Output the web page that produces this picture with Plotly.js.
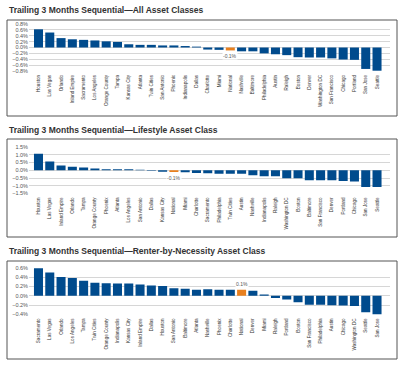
<!DOCTYPE html>
<html>
<head>
<meta charset="utf-8">
<script src="https://cdn.plot.ly/plotly-3.0.1.min.js"></script>
<style>html,body{margin:0;padding:0;background:#fff;}#chart{width:407px;height:366px;}</style>
</head>
<body>
<div id="chart"></div>
<script>
const titles = [
  "Trailing 3 Months Sequential\u2014All Asset Classes",
  "Trailing 3 Months Sequential\u2014Lifestyle Asset Class",
  "Trailing 3 Months Sequential\u2014Renter-by-Necessity Asset Class"
];

const cats1 = ["Houston","Las Vegas","Orlando","Inland Empire","Sacramento","Los Angeles","Orange County","Tampa","Kansas City","Atlanta","Twin Cities","San Antonio","Phoenix","Indianapolis","Dallas","Charlotte","Miami","National","Nashville","Baltimore","Philadelphia","Austin","Raleigh","Boston","Denver","Washington DC","San Francisco","Chicago","Portland","San Jose","Seattle"];
const vals1 = [0.62,0.51,0.32,0.28,0.26,0.24,0.21,0.19,0.11,0.09,0.09,0.07,0.07,0.05,0.03,-0.07,-0.08,-0.10,-0.13,-0.13,-0.20,-0.23,-0.26,-0.33,-0.34,-0.34,-0.37,-0.41,-0.42,-0.73,-0.79];

const cats2 = ["Houston","Las Vegas","Inland Empire","Orlando","Tampa","Orange County","Phoenix","Atlanta","Los Angeles","San Antonio","Dallas","Kansas City","National","Miami","Charlotte","Sacramento","Philadelphia","Twin Cities","Austin","Nashville","Indianapolis","Raleigh","Washington DC","Boston","Baltimore","San Francisco","Denver","Portland","Chicago","San Jose","Seattle"];
const vals2 = [1.06,0.56,0.30,0.22,0.17,0.11,0.07,0.07,0.07,0.04,-0.04,-0.09,-0.12,-0.13,-0.17,-0.19,-0.22,-0.22,-0.22,-0.32,-0.39,-0.39,-0.52,-0.52,-0.65,-0.65,-0.65,-0.69,-0.73,-1.08,-1.08];

const cats3 = ["Sacramento","Las Vegas","Orlando","Los Angeles","Tampa","Twin Cities","Orange County","Indianapolis","Kansas City","Inland Empire","Dallas","Houston","San Antonio","Baltimore","Atlanta","Nashville","Phoenix","Charlotte","National","Denver","Miami","Raleigh","Portland","Boston","San Francisco","Philadelphia","Austin","Chicago","Washington DC","Seattle","San Jose"];
const vals3 = [0.59,0.50,0.40,0.38,0.32,0.28,0.27,0.26,0.26,0.24,0.22,0.21,0.16,0.15,0.13,0.14,0.13,0.13,0.13,0.11,0.03,-0.05,-0.08,-0.14,-0.19,-0.19,-0.20,-0.21,-0.22,-0.35,-0.40];

const highlight = "National";
const BLUE = "#004b8d", ORANGE = "#e8801f";
const FONT = "Liberation Sans, Arial, sans-serif";
const W = 407, H = 366;

const panels = [
  {cats: cats1, vals: vals1, range: [-0.8, 0.8], dtick: 0.2, top: 24, bot: 71, boxTop: 20, boxBot: 116, titleY: 10},
  {cats: cats2, vals: vals2, range: [-1.5, 1.5], dtick: 0.5, top: 147, bot: 193.5, boxTop: 139, boxBot: 237, titleY: 130},
  {cats: cats3, vals: vals3, range: [-0.4, 0.6], dtick: 0.2, top: 267.7, bot: 314.5, boxTop: 261, boxBot: 359, titleY: 251}
];

const data = [];
const layout = {
  width: W, height: H,
  margin: {l: 0, r: 0, t: 0, b: 0},
  paper_bgcolor: "#fff", plot_bgcolor: "#fff",
  showlegend: false,
  bargap: 0.2,
  font: {family: FONT, color: "#333"},
  shapes: [], annotations: []
};

panels.forEach((p, i) => {
  const n = i === 0 ? "" : String(i + 1);
  data.push({
    type: "bar",
    x: p.cats, y: p.vals,
    xaxis: "x" + n, yaxis: "y" + n,
    marker: {color: p.cats.map(c => c === highlight ? ORANGE : BLUE)},
    hoverinfo: "x+y"
  });
  layout["xaxis" + n] = {
    domain: [29 / W, 390 / W],
    anchor: "y" + n,
    type: "category",
    range: [-0.84, p.cats.length + 0.15],
    tickangle: -90,
    ticklabelstandoff: 2,
    tickfont: {size: 4.6, color: "#333", family: FONT},
    showgrid: false, zeroline: false, showline: false, ticks: "",
    automargin: false
  };
  layout["yaxis" + n] = {
    domain: [1 - p.bot / H, 1 - p.top / H],
    anchor: "x" + n,
    range: p.range,
    dtick: p.dtick,
    tick0: 0,
    tickformat: ".1f",
    ticksuffix: "%",
    tickfont: {size: 5.5, color: "#555", family: FONT},
    gridcolor: "#d6d6d6", gridwidth: 1,
    zeroline: false, showline: false, ticks: "",
    automargin: false
  };
  layout.shapes.push({
    type: "rect", xref: "paper", yref: "paper",
    x0: 7 / W, x1: 397 / W, y0: 1 - p.boxBot / H, y1: 1 - p.boxTop / H,
    line: {color: "#555", width: 1}, fillcolor: "rgba(0,0,0,0)"
  });
  layout.annotations.push({
    xref: "paper", yref: "paper", x: 7 / W, y: 1 - p.titleY / H,
    xanchor: "left", yanchor: "middle", showarrow: false,
    text: "<b>" + titles[i] + "</b>",
    font: {size: 8.5, color: "#333", family: FONT}
  });
  const k = p.cats.indexOf(highlight);
  const v = p.vals[k];
  layout.annotations.push({
    xref: "x" + n, yref: "y" + n, x: p.cats[k], y: v,
    xanchor: "center", yanchor: v < 0 ? "top" : "bottom",
    yshift: v < 0 ? -2 : 2,
    showarrow: false, bgcolor: "#fff", borderpad: 0,
    text: v.toFixed(1) + "%",
    font: {size: 5, color: "#555", family: FONT}
  });
});

Plotly.newPlot("chart", data, layout, {displayModeBar: false, staticPlot: true});
</script>
</body>
</html>
